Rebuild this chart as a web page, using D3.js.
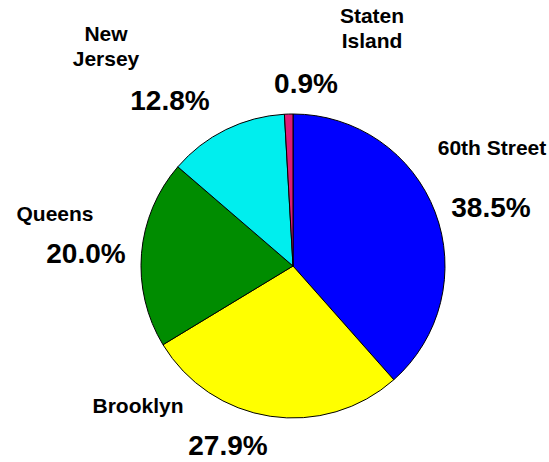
<!DOCTYPE html>
<html>
<head>
<meta charset="utf-8">
<script src="https://cdn.jsdelivr.net/npm/d3@7"></script>
<style>
html,body{margin:0;padding:0;background:#fff;}
svg{display:block;}
text{font-family:Arial,"Liberation Sans",Helvetica,sans-serif;font-weight:bold;fill:#000;}
</style>
</head>
<body>
<svg id="chart" width="549" height="462"></svg>
<script>
// Data
const categories = ["60th Street", "Brooklyn", "Queens", "New Jersey", "Staten Island"];
const values = [38.5, 27.9, 20.0, 12.8, 0.9];
const pctLabels = ["38.5%", "27.9%", "20.0%", "12.8%", "0.9%"];
const nameLines = [["60th Street"], ["Brooklyn"], ["Queens"], ["New", "Jersey"], ["Staten", "Island"]];
const colors = ["#0000FF", "#FFFF00", "#008C00", "#00EEEE", "#DD1C77"];

// Layout (label anchor points: name first-line baseline, pct baseline)
const layout = {
  cx: 293, cy: 266, r: 152,
  nameX: [492, 138, 55, 106, 372],
  nameY: [155, 413, 221, 41, 23],
  pctX: [491, 228, 86, 170, 306],
  pctY: [217, 455, 263, 110, 93]
};

const svg = d3.select("#chart");
const g = svg.append("g").attr("transform", `translate(${layout.cx},${layout.cy})`);

const pie = d3.pie().sort(null).value(d => d)(values);
const arc = d3.arc().innerRadius(0).outerRadius(layout.r);

g.selectAll("path")
  .data(pie)
  .enter().append("path")
  .attr("d", arc)
  .attr("fill", (d, i) => colors[i])
  .attr("stroke", "#000")
  .attr("stroke-width", 1)
  .attr("stroke-linejoin", "round");

const labels = svg.append("g");
categories.forEach((c, i) => {
  const t = labels.append("text")
    .attr("x", layout.nameX[i])
    .attr("y", layout.nameY[i])
    .attr("text-anchor", "middle")
    .attr("font-size", 21);
  nameLines[i].forEach((ln, k) => {
    t.append("tspan").attr("x", layout.nameX[i]).attr("dy", k === 0 ? 0 : 24.5).text(ln);
  });
  labels.append("text")
    .attr("x", layout.pctX[i])
    .attr("y", layout.pctY[i])
    .attr("text-anchor", "middle")
    .attr("font-size", 28)
    .text(pctLabels[i]);
});
</script>
</body>
</html>
